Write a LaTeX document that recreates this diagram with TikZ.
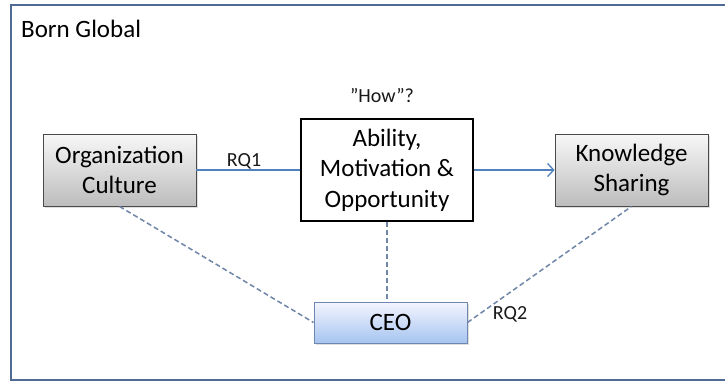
\documentclass[tikz,border=0pt]{standalone}
\usepackage{fontspec}
\setmainfont{Carlito}
\usetikzlibrary{arrows.meta,shadows,calc}
\definecolor{framecol}{HTML}{4F6A94}
\definecolor{linecol}{HTML}{4F81BD}
\definecolor{dashcol}{HTML}{6F86A8}
\definecolor{grayborder}{HTML}{4A4A4A}
\definecolor{ceoborder}{HTML}{6E87B0}
\tikzset{
  graybox/.style={draw=grayborder, line width=0.9pt, shading=axis,
    top color=gray!6, bottom color=gray!52, minimum width=153pt, minimum height=72pt,
    align=center, font=\fontsize{25}{30.5}\selectfont, text=black, inner sep=0pt,
    drop shadow={shadow xshift=1.5pt, shadow yshift=-2pt, opacity=0.25}},
  amobox/.style={draw=black, line width=2.8pt, fill=white, minimum width=172pt, minimum height=102pt,
    align=center, font=\fontsize{25}{30.5}\selectfont, text=black, inner sep=0pt},
  ceobox/.style={draw=ceoborder, line width=0.9pt, shading=axis,
    top color=blue!4!white, bottom color={rgb,255:red,166;green,196;blue,240},
    minimum width=153pt, minimum height=41pt, font=\fontsize{25}{30.5}\selectfont, text=black, inner sep=0pt,
    drop shadow={shadow xshift=1.5pt, shadow yshift=-2pt, opacity=0.25}},
  solidline/.style={draw=linecol, line width=1.3pt},
  dashline/.style={draw=dashcol, line width=1.5pt, dash pattern=on 5pt off 3pt},
  smalltext/.style={font=\fontsize{20}{24}\selectfont, text=black!90, inner sep=0pt},
  bigtext/.style={font=\fontsize{25}{30}\selectfont, text=black, inner sep=0pt}
}
\begin{document}
\begin{tikzpicture}[x=1pt,y=-1pt]
\useasboundingbox (0,0) rectangle (725,381);
\clip (0,0) rectangle (725,381);
\fill[white] (0,0) rectangle (725,381);
\draw[framecol, line width=2pt] (11,5) rectangle (740,379.5);
\node[bigtext, anchor=base west] (title) at (21,37) {Born Global};
\node[graybox] (org) at (119.5,170) {Organization\\Culture};
\node[amobox] (amo) at (387,170) {Ability,\\Motivation \&\\Opportunity};
\node[graybox] (ks) at (631.5,170) {Knowledge\\Sharing};
\node[ceobox] (ceo) at (390.5,322.5) {CEO};
\node[smalltext] (how) at (382,96) {”How”?};
\node[smalltext] (rq1) at (244,161) {RQ1};
\node[smalltext] (rq2) at (510,314) {RQ2};
\draw[solidline] (org.east) -- (amo.west);
\draw[solidline, -{Straight Barb[length=6pt,width=13pt,line width=1.3pt]}] (amo.east) -- (ks.west);
\draw[dashline] (org.south) -- (ceo.west);
\draw[dashline] (amo.south) -- (amo.south |- ceo.north);
\draw[dashline] (ceo.east) -- (ks.south);
\end{tikzpicture}
\end{document}
